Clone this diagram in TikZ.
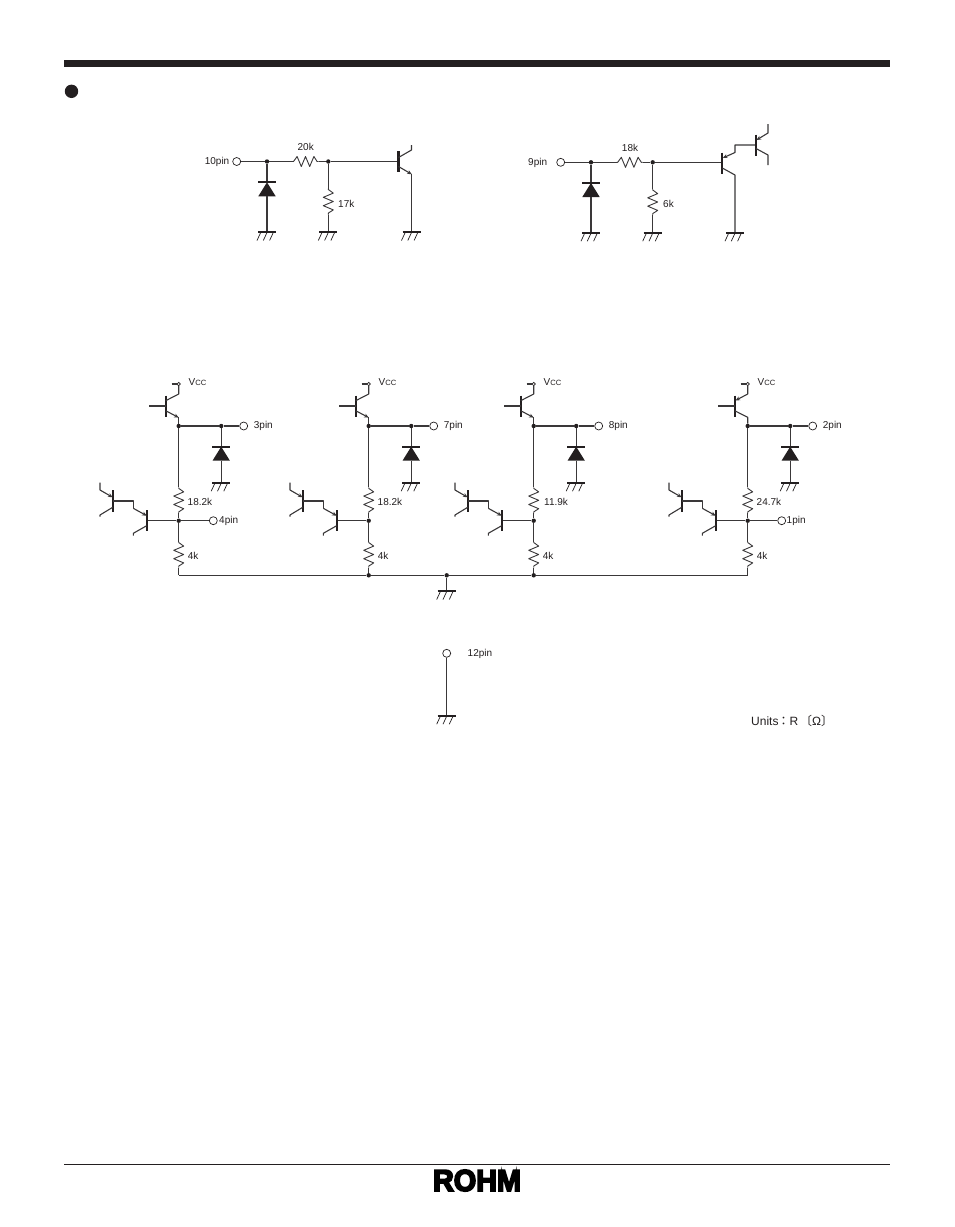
\documentclass[tikz,border=0pt]{standalone}
\usepackage{fontspec}
\setmainfont{Liberation Sans}
\newfontfamily\cjkfont{Noto Sans CJK JP}
\usetikzlibrary{arrows.meta,calc}
\definecolor{ink}{HTML}{231F20}
\definecolor{wirecol}{HTML}{3A3839}
\tikzset{
  wire/.style={draw=wirecol,line width=1.1pt,line join=round},
  qbar/.style={draw=ink,line width=2.2pt},
  gbar/.style={draw=ink,line width=2pt},
  hatch/.style={draw=ink,line width=.7pt},
  tip/.style={-{Stealth[length=4.6pt,width=4pt]}},
  dot/.style={circle,fill=ink,inner sep=0pt,minimum size=4.4pt},
  smalldot/.style={circle,draw=ink,fill=white,line width=.7pt,inner sep=0pt,minimum size=3.4pt},
  pinc/.style={circle,draw=ink,fill=white,line width=.7pt,inner sep=0pt,minimum size=8pt},
  lab/.style={font=\fontsize{10}{12}\selectfont,text=ink,inner sep=0pt},
  pics/ground/.style={code={
    \draw[gbar] (-9,0) -- (9,0);
    \draw[hatch] (-6.3,0.5) -- (-10,8.5) (0,0.5) -- (-3.7,8.5) (6.3,0.5) -- (2.6,8.5);
  }},
  pics/diode/.style={code={
    \draw[gbar] (-9,0) -- (9,0);
    \fill[ink] (0,0) -- (8.7,14) -- (-8.7,14) -- cycle;
  }},
  pics/resv/.style={code={
    \draw[wire,line width=.9pt] (0,0) -- (0,1) -- (5,4.6) -- (-5,8.8) -- (5,13) -- (-5,17.2) -- (5,21.4) -- (0,24.6) -- (0,26);
  }},
  pics/resh/.style={code={
    \draw[wire,line width=.9pt] (0,0) -- (1,0) -- (4.6,-5) -- (8.8,5) -- (13,-5) -- (17.2,5) -- (21.4,-5) -- (24.6,0) -- (26,0);
  }},
}
% darlington block at the left of an output stage: #1 main x, #2 node prefix
\newcommand{\darl}[2]{
  \coordinate (#2q2) at ({#1-32},520.7);
  \coordinate (#2q1) at ({#1-66},501);
  \draw[qbar] ($(#2q2)+(0,-10.7)$) -- ($(#2q2)+(0,10.7)$);
  \draw[qbar] ($(#2q1)+(0,-10.7)$) -- ($(#2q1)+(0,10.7)$);
  \draw[wire] (#2q1) -- ($(#2q2)+(-13.4,-19.7)$) -- ($(#2q2)+(-13.4,-12.4)$);
  \draw[wire,tip] ($(#2q2)+(-13.4,-12.4)$) -- ($(#2q2)+(0,-5)$);
  \draw[wire] ($(#2q2)+(0,5)$) -- ($(#2q2)+(-13.4,12.6)$) -- ($(#2q2)+(-13.4,15)$);
  \draw[wire,tip] ($(#2q1)+(-12.7,-18.3)$) -- ($(#2q1)+(-12.7,-11)$) -- ($(#2q1)+(0,-3.7)$);
  \draw[wire] ($(#2q1)+(0,6.3)$) -- ($(#2q1)+(-12.7,14)$) -- ($(#2q1)+(-12.7,15.7)$);
}
% output stage: #1 main x, #2 prefix, #3 pin label, #4 upper resistor label, #5 x of upper resistor label
\newcommand{\stage}[5]{
  \coordinate (#2q) at ({#1-13},406);
  \node[smalldot] (#2v) at (#1,384) {};
  \node[dot] (#2a) at (#1,426) {};
  \node[dot] (#2b) at ({#1+42.5},426) {};
  \node[pinc] (#2p) at ({#1+65},426) {};
  \node[lab,anchor=west] at ({#1+75},425.6) {#3};
  \node[lab,anchor=west] at ({#1+9.7},382) {V{\fontsize{7.6}{8}\selectfont CC}};
  \coordinate (#2g) at ({#1+42.5},482.7);
  \coordinate (#2d) at ({#1+42.5},446.7);
  \coordinate (#2r1) at (#1,487.3);
  \coordinate (#2r1e) at (#1,513.3);
  \node[dot] (#2c) at (#1,520.7) {};
  \coordinate (#2r2) at (#1,541.5);
  \coordinate (#2r2e) at (#1,567.5);
  \draw[wire] ({#1-7},384) -- (#2v);
  \draw[qbar] ($(#2q)+(0,-10.5)$) -- ($(#2q)+(0,10.5)$);
  \draw[wire] ($(#2q)+(-16.3,0)$) -- (#2q);
  \draw[wire] (#2a) -- (#2b) -- (#2p);
  \draw[wire] (#2b) -- (#2d);
  \draw[wire] ($(#2d)+(0,14)$) -- (#2g);
  \pic at (#2d) {diode};
  \pic at (#2g) {ground};
  \draw[wire] (#2a) -- (#2r1);
  \pic at (#2r1) {resv};
  \draw[wire] (#2r1e) -- (#2c) -- (#2r2);
  \pic at (#2r2) {resv};
  \draw[wire] (#2r2e) -- (#1,575);
  \draw[wire] (#2c) -- ({#1-32},520.7);
  \node[lab,anchor=west] at (#5,501.5) {#4};
  \node[lab,anchor=west] at ({#1+9},556) {4k};
  \darl{#1}{#2}
}
\newcommand{\uppernormal}[2]{
  \draw[wire] (#2v) -- ($(#2v)+(0,10)$) -- ({#1-13},400.7);
  \draw[wire,tip] ({#1-13},410.7) -- (#1,417.6);
  \draw[wire] (#1,417) -- (#2a);
}
\begin{document}
\begin{tikzpicture}[x=1pt,y=-1pt]
\useasboundingbox (0,0) rectangle (954,1227);
\fill[white] (0,0) rectangle (954,1227);
% page furniture
\fill[ink] (64,60) rectangle (890,67);
\fill[ink] (71.5,91.3) circle (6.7);
\draw[ink,line width=.9pt] (64,1164.3) -- (890,1164.3);
\node[inner sep=0pt,text=black] (logo) at (477,1180.5) {\resizebox{88pt}{21pt}{\fontspec{Liberation Sans}[FakeBold=6]\bfseries ROHM}};

% ---------- circuit 10pin ----------
\node[pinc] (a0) at (236.7,161.5) {};
\node[lab,anchor=east] at (229.5,161.5) {10pin};
\node[dot] (a1) at (267,161.5) {};
\node[dot] (a2) at (328.3,161.5) {};
\coordinate (aq) at (398.5,161.5);
\coordinate (ar1) at (292.5,161.5);
\coordinate (ar1e) at (318.5,161.5);
\coordinate (ad) at (267,182.3);
\coordinate (ag1) at (267,232);
\coordinate (ag2) at (328.3,232);
\coordinate (ag3) at (411.5,232);
\coordinate (ar2) at (328.3,188.5);
\coordinate (ar2e) at (328.3,214.5);
\draw[wire] (a0) -- (a1) -- (ar1);
\pic at (ar1) {resh};
\draw[wire] (ar1e) -- (a2) -- (aq);
\draw[wire] (a1) -- (ad);
\pic at (ad) {diode};
\draw[wire] ($(ad)+(0,14)$) -- (ag1);
\pic at (ag1) {ground};
\draw[wire] (a2) -- (ar2);
\pic at (ar2) {resv};
\draw[wire] (ar2e) -- (ag2);
\pic at (ag2) {ground};
\draw[qbar] ($(aq)+(0,-10.5)$) -- ($(aq)+(0,10.5)$);
\draw[wire] ($(aq)+(0,-4)$) -- (411.5,150) -- (411.5,145);
\draw[wire,tip] ($(aq)+(0,5)$) -- (411.8,174.3);
\draw[wire] (411.5,173.5) -- (ag3);
\pic at (ag3) {ground};
\node[lab] at (305.7,147) {20k};
\node[lab,anchor=west] at (338,203.5) {17k};

% ---------- circuit 9pin ----------
\node[pinc] (b0) at (560.7,162.3) {};
\node[lab,anchor=west] at (528,162.7) {9pin};
\node[dot] (b1) at (591,162.3) {};
\node[dot] (b2) at (652.7,162.3) {};
\coordinate (bq) at (722.3,163);
\coordinate (bq2) at (756,145);
\coordinate (br1) at (616.7,162.3);
\coordinate (br1e) at (642.7,162.3);
\coordinate (bd) at (591,183);
\coordinate (bg1) at (591,232.7);
\coordinate (bg2) at (652.7,232.7);
\coordinate (bg3) at (735,232.7);
\coordinate (br2) at (652.7,189);
\coordinate (br2e) at (652.7,215);
\draw[wire] (b0) -- (b1) -- (br1);
\pic at (br1) {resh};
\draw[wire] (br1e) -- (b2) -- (722.3,162.3);
\draw[wire] (b1) -- (bd);
\pic at (bd) {diode};
\draw[wire] ($(bd)+(0,14)$) -- (bg1);
\pic at (bg1) {ground};
\draw[wire] (b2) -- (br2);
\pic at (br2) {resv};
\draw[wire] (br2e) -- (bg2);
\pic at (bg2) {ground};
\draw[qbar] ($(bq)+(0,-10.5)$) -- ($(bq)+(0,10.5)$);
\draw[wire,tip] (bq2) -- (735,145) -- (735,152.5) -- (722.8,158);
\draw[wire] ($(bq)+(0,5)$) -- (735,175) -- (bg3);
\pic at (bg3) {ground};
\draw[qbar] ($(bq2)+(0,-10.5)$) -- ($(bq2)+(0,10.5)$);
\draw[wire,tip] (768,124) -- (768,133) -- (756.5,140);
\draw[wire] (756,148.5) -- (768,155) -- (768,165);
\node[lab] at (630,148) {18k};
\node[lab,anchor=west] at (663,204) {6k};

% ---------- output stages ----------
\stage{178.7}{c}{3pin}{18.2k}{187.5}
\uppernormal{178.7}{c}
\stage{368.7}{d}{7pin}{18.2k}{377.5}
\uppernormal{368.7}{d}
\stage{533.7}{e}{8pin}{11.9k}{544}
\uppernormal{533.7}{e}
\stage{747.7}{f}{2pin}{24.7k}{756.5}
% last stage: arrow on the upper lead
\draw[wire,tip] (fv) -- ($(fv)+(0,10)$) -- (735.5,400.5);
\draw[wire] (734.7,410.7) -- (747.7,417.3) -- (fa);
% lower output pins
\node[pinc] (c4) at (213.3,520.7) {};
\draw[wire] (cc) -- (c4);
\node[lab,anchor=west] at (219,521) {4pin};
\node[pinc] (f1) at (781.7,520.7) {};
\draw[wire] (fc) -- (f1);
\node[lab,anchor=west] at (786.5,521) {1pin};
% ground bus
\node[dot] (bus2) at (368.7,575.3) {};
\node[dot] (bus3) at (533.7,575.3) {};
\node[dot] (busg) at (446.7,575.3) {};
\coordinate (gb) at (446.7,591);
\draw[wire] (178.7,575.3) -- (bus2) -- (busg) -- (bus3) -- (747.7,575.3);
\draw[wire] (busg) -- (gb);
\pic at (gb) {ground};

% ---------- 12pin ----------
\node[pinc] (p12) at (446.7,653.3) {};
\coordinate (g12) at (446.7,715.7);
\draw[wire] (p12) -- (g12);
\pic at (g12) {ground};
\node[lab,anchor=west] at (467.5,653.8) {12pin};

% units
\node[lab,anchor=west,font=\fontsize{12}{14}\selectfont] at (751,721) {Units{\kern -1pt\cjkfont ：}R{\kern 2pt\cjkfont 〔}{\fontspec{Liberation Sans}Ω}{\cjkfont 〕}};
\end{tikzpicture}
\end{document}
